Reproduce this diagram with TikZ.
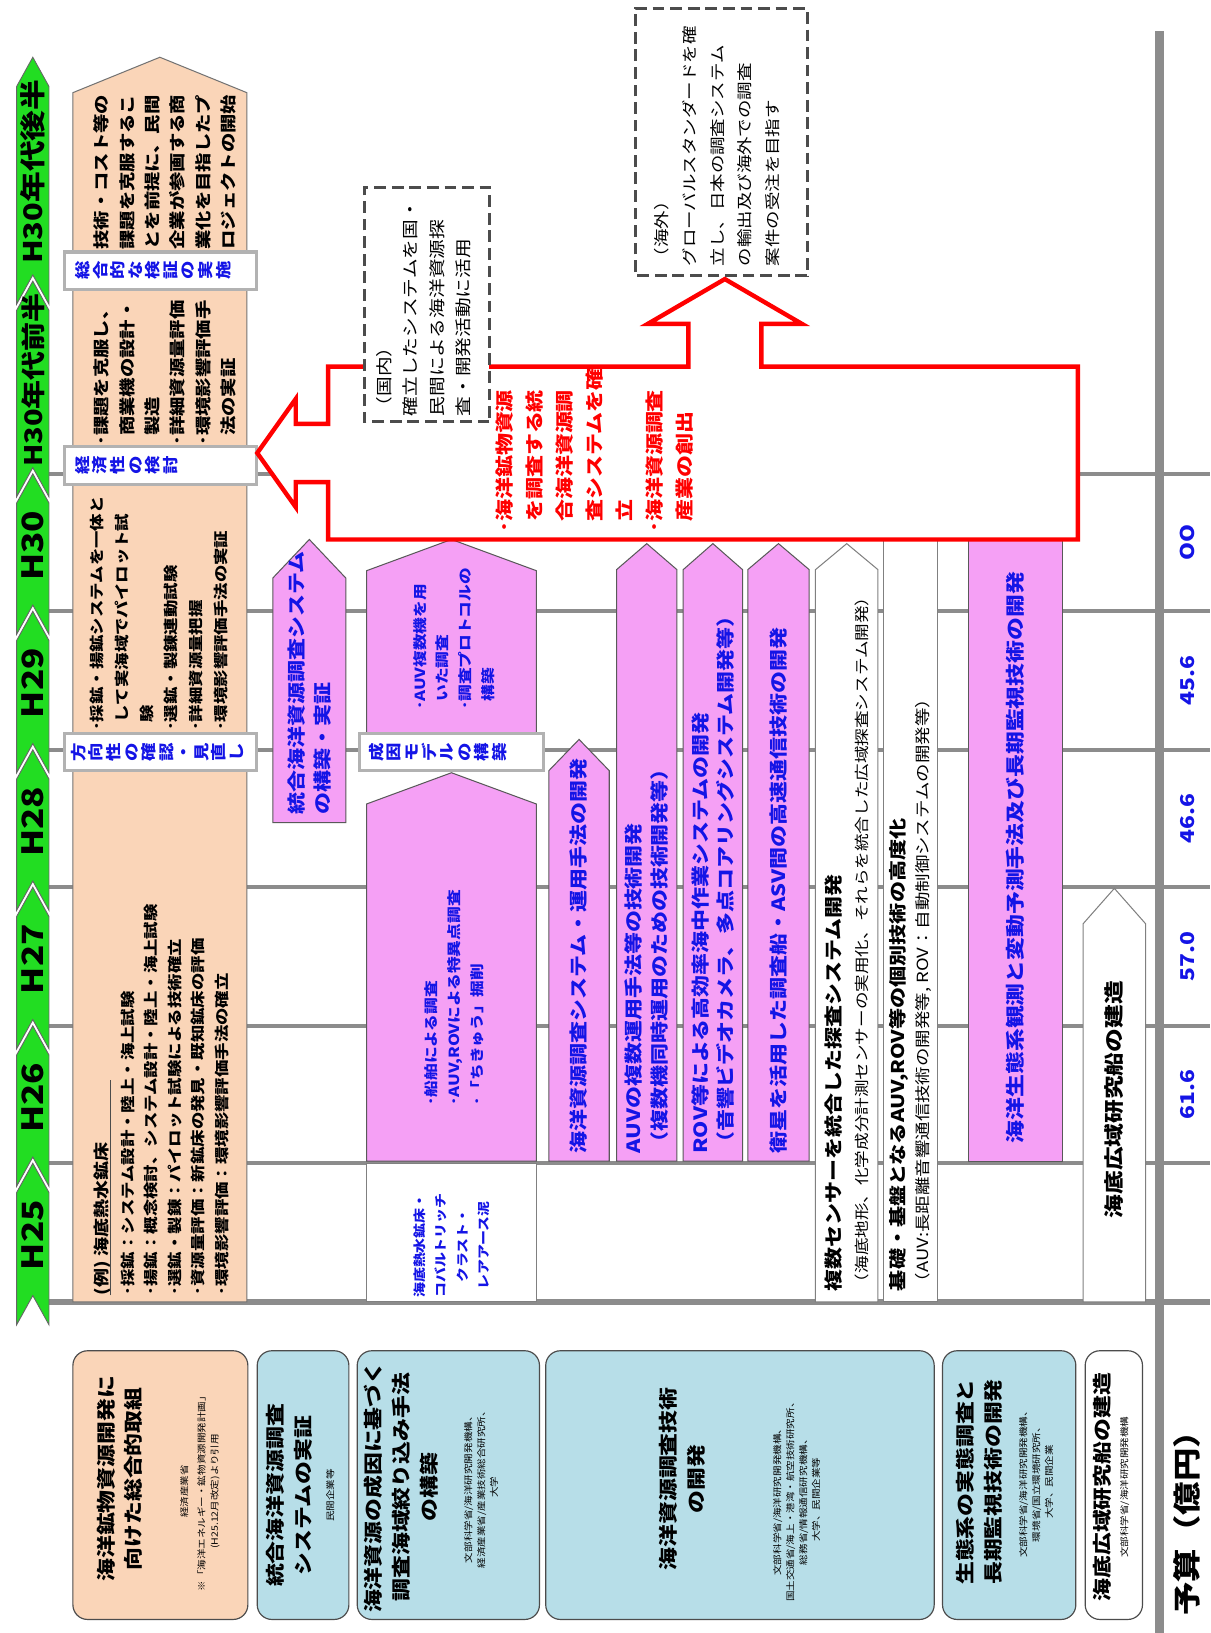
\documentclass[tikz,border=0pt]{standalone}
\usepackage{fontspec}
\setmainfont{Noto Sans CJK JP}
\usepackage{xcolor}
\definecolor{peach}{HTML}{FAD5B8}
\definecolor{catblue}{HTML}{B7DEE8}
\definecolor{pinkbar}{HTML}{F5A0F5}
\definecolor{yeargreen}{HTML}{22DD22}
\definecolor{gridgray}{HTML}{8C8C8C}
\definecolor{txtblue}{HTML}{1414E6}
\definecolor{arrowred}{HTML}{FF0000}

\begin{document}
\begin{tikzpicture}[x=0.025cm, y=0.025cm,
  yearline/.style={draw=gridgray, line width=2.5pt},
  chevron/.style={fill=yeargreen, draw=black!60, line width=0.6pt},
  yearlbl/.style={inner sep=0pt, font=\fontsize{20}{20}\selectfont\bfseries},
  peachtxt/.style={align=left, inner sep=0pt, font=\fontsize{11}{17.3}\selectfont\bfseries},
  bannerbox/.style={fill=white, draw=gray!60, line width=2.2pt},
  tatetxt/.style={align=center, inner sep=0pt, text=txtblue, font=\fontsize{10.5}{12}\selectfont\bfseries},
  pinkcol/.style={fill=pinkbar, draw=black!65, line width=0.7pt},
  whitecol/.style={fill=white, draw=black!50, line width=0.7pt},
  bluetxt/.style={align=left, inner sep=0pt, text=txtblue, font=\fontsize{12.5}{17.5}\selectfont\bfseries},
  blacktxt/.style={align=left, inner sep=0pt, font=\fontsize{12.5}{18}\selectfont\bfseries},
  redframe/.style={fill=white, draw=arrowred, line width=3pt},
  redtxt/.style={align=left, inner sep=0pt, text=arrowred, font=\fontsize{12.5}{20.5}\selectfont\bfseries},
  dashbox/.style={fill=white, draw=black!70, line width=2pt, dash pattern=on 8pt off 4pt},
  plaintxt/.style={align=left, inner sep=0pt, font=\fontsize{11}{18}\selectfont},
  catbox/.style={draw=black!70, line width=0.8pt, rounded corners=10pt},
  cattitle/.style={align=center, inner sep=0pt, font=\fontsize{13}{19}\selectfont\bfseries},
  catnote/.style={align=center, inner sep=0pt, font=\fontsize{6}{8.8}\selectfont},
  budgetnum/.style={inner sep=0pt, text=txtblue, font=\fontsize{13}{13}\selectfont\bfseries},
]
  \useasboundingbox (0,0) rectangle (1162,1568);
  \fill[white] (0,0) rectangle (1162,1568);

  \begin{scope}[shift={(1162,0)}, rotate=90, xscale=1.2, x=0.0208333cm, transform shape]

  \draw[yearline, line width=4pt] (318,1115) -- (318,0);
  \draw[yearline] (451,1115) -- (451,0);
  \draw[yearline] (583,1115) -- (583,0);
  \draw[yearline] (716,1115) -- (716,0);
  \draw[yearline] (848,1115) -- (848,0);
  \draw[yearline] (981,1115) -- (981,0);
  \draw[yearline] (1113,1115) -- (1113,0);
  \draw[draw=gridgray, line width=6pt] (0,49) -- (1538,49);

  \draw[chevron] (296,1115) -- (423,1115) -- (451,1130.5) -- (423,1146) -- (296,1146) -- (324,1130.5) -- cycle;
  \draw[chevron] (429,1115) -- (555,1115) -- (583,1130.5) -- (555,1146) -- (429,1146) -- (457,1130.5) -- cycle;
  \draw[chevron] (561,1115) -- (688,1115) -- (716,1130.5) -- (688,1146) -- (561,1146) -- (589,1130.5) -- cycle;
  \draw[chevron] (694,1115) -- (820,1115) -- (848,1130.5) -- (820,1146) -- (694,1146) -- (722,1130.5) -- cycle;
  \draw[chevron] (826,1115) -- (953,1115) -- (981,1130.5) -- (953,1146) -- (826,1146) -- (854,1130.5) -- cycle;
  \draw[chevron] (959,1115) -- (1085,1115) -- (1113,1130.5) -- (1085,1146) -- (959,1146) -- (987,1130.5) -- cycle;
  \draw[chevron] (1091,1115) -- (1270,1115) -- (1298,1130.5) -- (1270,1146) -- (1091,1146) -- (1119,1130.5) -- cycle;
  \draw[chevron] (1276,1115) -- (1485,1115) -- (1513,1130.5) -- (1485,1146) -- (1276,1146) -- (1304,1130.5) -- cycle;
  \node[yearlbl] (h25) at (382,1130.5) {H25};
  \node[yearlbl] (h26) at (514,1130.5) {H26};
  \node[yearlbl] (h27) at (647,1130.5) {H27};
  \node[yearlbl] (h28) at (779,1130.5) {H28};
  \node[yearlbl] (h29) at (912,1130.5) {H29};
  \node[yearlbl] (h30) at (1044,1130.5) {H30};
  \node[yearlbl, font=\fontsize{16.5}{16.5}\selectfont\bfseries] (h30e) at (1203,1130.5) {H30年代前半};
  \node[yearlbl, font=\fontsize{17.5}{17.5}\selectfont\bfseries] (h30l) at (1403,1130.5) {H30年代後半};

  \draw[fill=peach, draw=black!55, line width=0.7pt] (318,925) -- (1479,925) -- (1513,1008.5) -- (1479,1092) -- (318,1092) -- cycle;
  \node[peachtxt, anchor=north west] (goalLate) at (1328,1072) {技術・コスト等の\\課題を克服するこ\\とを前提に、民間\\企業が参画する商\\業化を目指したプ\\ロジェクトの開始};
  \node[peachtxt, anchor=north west] (goalEarly) at (1140,1072) {･課題を克服し、\\\hphantom{･}商業機の設計・\\\hphantom{･}製造\\･詳細資源量評価\\･環境影響評価手\\\hphantom{･}法の実証};
  \node[peachtxt, font=\fontsize{9.9}{17}\selectfont\bfseries, anchor=north west] (pilot) at (866,1076) {･採鉱・揚鉱システムを一体と\\\hphantom{･}して実海域でパイロット試\\\hphantom{･}験\\･選鉱・製錬連動試験\\･詳細資源量把握\\･環境影響評価手法の実証};
  \node[peachtxt, font=\fontsize{10.8}{16}\selectfont\bfseries, anchor=north west] (exTitle) at (324,1072) {(例) 海底熱水鉱床};
  \draw[black!70, line width=0.6pt] (exTitle.south west) -- ++(207,0);
  \node[peachtxt, font=\fontsize{9.9}{16}\selectfont\bfseries, anchor=north west] (exBody) at (324,1046) {･採鉱：システム設計・陸上・海上試験\\･揚鉱：概念検討、システム設計・陸上・海上試験\\･選鉱・製錬：パイロット試験による技術確立\\･資源量評価：新鉱床の発見・既知鉱床の評価\\･環境影響評価：環境影響評価手法の確立};

  \draw[bannerbox] (1290,916) rectangle (1326,1100);
  \node[tatetxt, anchor=north] (chkTotal) at (1308,1090) {総\\合\\的\\な\\検\\証\\の\\実\\施};
  \draw[bannerbox] (1103,916) rectangle (1139,1100);
  \node[tatetxt, anchor=north] (chkEcon) at (1121,1090) {経\\済\\性\\の\\検\\討};
  \draw[bannerbox] (828,916) rectangle (864,1100);
  \node[tatetxt, anchor=north] (chkDir) at (846,1094) {方\\向\\性\\の\\確\\認\\・\\見\\直\\し};

  \draw[pinkcol] (778,830) -- (1013,830) -- (1050,865) -- (1013,900) -- (778,900) -- cycle;
  \node[bluetxt, anchor=west] (integ) at (786,865) {統合海洋資源調査システム\\の構築・実証};

  \draw[pinkcol] (846,647) -- (1020,647) -- (1050,728.5) -- (1020,810) -- (846,810) -- cycle;
  \node[bluetxt, font=\fontsize{9.5}{15.6}\selectfont\bfseries, anchor=west] (auvSurvey) at (886,726) {･AUV複数機を用\\\hphantom{･}いた調査\\･調査プロトコルの\\\hphantom{･}構築};
  \draw[pinkcol] (453,647) -- (796,647) -- (826,728.5) -- (796,810) -- (453,810) -- cycle;
  \node[bluetxt, font=\fontsize{9.5}{15.6}\selectfont\bfseries, anchor=west] (shipSurvey) at (506,726) {･船舶による調査\\･AUV,ROVによる特異点調査\\･「ちきゅう」掘削};
  \draw[whitecol] (318,647) rectangle (451,810);
  \node[bluetxt, align=center, font=\fontsize{8.5}{14.7}\selectfont\bfseries] (deposits) at (372,728) {海底熱水鉱床・\\コバルトリッチ\\クラスト・\\レアアース泥};
  \draw[bannerbox] (828,640) rectangle (864,817);
  \node[tatetxt, anchor=north] (model) at (846,808) {成\\因\\モ\\デ\\ル\\の\\構\\築};

  \draw[pinkcol] (453,577) -- (828,577) -- (858,606) -- (828,635) -- (453,635) -- cycle;
  \node[bluetxt, anchor=west] (opsMethod) at (460,606) {海洋資源調査システム・運用手法の開発};
  \draw[pinkcol] (453,512) -- (1021,512) -- (1046,541) -- (1021,570) -- (453,570) -- cycle;
  \node[bluetxt, anchor=west] (auvMulti) at (460,541) {AUVの複数運用手法等の技術開発\\（複数機同時運用のための技術開発等）};
  \draw[pinkcol] (453,449) -- (1021,449) -- (1046,477.5) -- (1021,506) -- (453,506) -- cycle;
  \node[bluetxt, anchor=west] (rovWork) at (460,477.5) {ROV等による高効率海中作業システムの開発\\（音響ビデオカメラ、多点コアリングシステム開発等）};
  \draw[pinkcol] (453,385) -- (1021,385) -- (1046,414.5) -- (1021,444) -- (453,444) -- cycle;
  \node[bluetxt, anchor=west] (satComm) at (460,414.5) {衛星を活用した調査船・ASV間の高速通信技術の開発};

  \draw[whitecol] (318,319) -- (1021,319) -- (1046,349) -- (1021,379) -- (318,379) -- cycle;
  \node[blacktxt, anchor=west] (sensors) at (328,349) {複数センサーを統合した探査システム開発\\{\fontsize{10}{18}\selectfont\mdseries （海底地形、化学成分計測センサーの実用化、それらを統合した広域探査システム開発）}};
  \draw[whitecol] (318,262) rectangle (1050,314);
  \node[blacktxt, font=\fontsize{12}{16.3}\selectfont\bfseries, anchor=west] (baseTech) at (328,288) {基礎・基盤となるAUV,ROV等の個別技術の高度化\\{\fontsize{10.5}{16.3}\selectfont\mdseries （AUV:長距離音響通信技術の開発等, ROV：自動制御システムの開発等）}};
  \draw[pinkcol] (453,142) rectangle (1050,232);
  \node[bluetxt, font=\fontsize{13}{17.5}\selectfont\bfseries, anchor=west] (ecoMon) at (470,187) {海洋生態系観測と変動予測手法及び長期監視技術の開発};
  \draw[whitecol] (318,62) -- (681,62) -- (715,92) -- (681,122) -- (318,122) -- cycle;
  \node[blacktxt, font=\fontsize{13.5}{18}\selectfont\bfseries] (vessel) at (512,92) {海底広域研究船の建造};

  \draw[redframe] (1050,127) -- (1050,847) -- (1105,847) -- (1105,878) -- (1081,878) -- (1133,915) -- (1185,878) -- (1161,878) -- (1161,847) -- (1216,847) -- (1216,501) -- (1257,501) -- (1257,540) -- (1300,466) -- (1257,392) -- (1257,431) -- (1216,431) -- (1216,127) -- cycle;
  \node[redtxt, anchor=north west] (goal) at (1056,686) {･海洋鉱物資源\\\hphantom{･}を調査する統\\\hphantom{･}合海洋資源調\\\hphantom{･}査システムを確\\\hphantom{･}立\\･海洋資源調査\\\hphantom{･}産業の創出};

  \draw[dashbox] (1163,692) rectangle (1388,812);
  \node[plaintxt, font=\fontsize{11.2}{18}\selectfont, anchor=north west] (domestic) at (1168,801) {（国内）\\確立したシステムを国・\\民間による海洋資源探\\査・開発活動に活用};
  \draw[dashbox] (1303,387) rectangle (1560,552);
  \node[plaintxt, font=\fontsize{10.5}{19}\selectfont, anchor=north west] (overseas) at (1312,534) {（海外）\\グローバルスタンダードを確\\立し、日本の調査システム\\の輸出及び海外での調査\\案件の受注を目指す};

  \draw[catbox, fill=peach] (13,924) rectangle (271,1092);
  \node[cattitle] (catMineral) at (148,1047) {海洋鉱物資源開発に\\向けた総合的取組};
  \node[catnote] (catMineralNote) at (136,970) {経済産業省\\[3pt]※「海洋エネルギー・鉱物資源開発計画」\\(H25.12月改定)より引用};
  \draw[catbox, fill=catblue] (13,827) rectangle (271,915);
  \node[cattitle] (catSystem) at (132,884) {統合海洋資源調査\\システムの実証};
  \node[catnote] (catSystemNote) at (132,845) {民間企業等};
  \draw[catbox, fill=catblue] (13,644) rectangle (271,819);
  \node[cattitle] (catOrigin) at (140,777) {海洋資源の成因に基づく\\調査海域絞り込み手法\\の構築};
  \node[catnote] (catOriginNote) at (140,700) {文部科学省/海洋研究開発機構、\\経済産業省/産業技術総合研究所、\\大学};
  \draw[catbox, fill=catblue] (13,265) rectangle (271,638);
  \node[cattitle] (catTech) at (148,507) {海洋資源調査技術\\の開発};
  \node[catnote] (catTechNote) at (128,397) {文部科学省/海洋研究開発機構、\\国土交通省/海上・港湾・航空技術研究所、\\総務省/情報通信研究機構、\\大学、民間企業等};
  \draw[catbox, fill=catblue] (13,129) rectangle (271,257);
  \node[cattitle] (catEco) at (145,222) {生態系の実態調査と\\長期監視技術の開発};
  \node[catnote] (catEcoNote) at (145,167) {文部科学省/海洋研究開発機構、\\環境省/国立環境研究所、\\大学、民間企業};
  \draw[catbox, fill=white] (13,65) rectangle (271,120);
  \node[cattitle] (catVessel) at (140,104) {海底広域研究船の建造};
  \node[catnote] (catVesselNote) at (140,82) {文部科学省/海洋研究開発機構};

  \node[budgetnum] (b26) at (517,22) {61.6};
  \node[budgetnum] (b27) at (649.5,22) {57.0};
  \node[budgetnum] (b28) at (782,22) {46.6};
  \node[budgetnum] (b29) at (914.5,22) {45.6};
  \node[budgetnum] (b30) at (1047,22) {OO};
  \node[inner sep=0pt, font=\fontsize{19}{19}\selectfont\bfseries] (budget) at (113,22) {予算（億円）};

  \end{scope}
\end{tikzpicture}
\end{document}
